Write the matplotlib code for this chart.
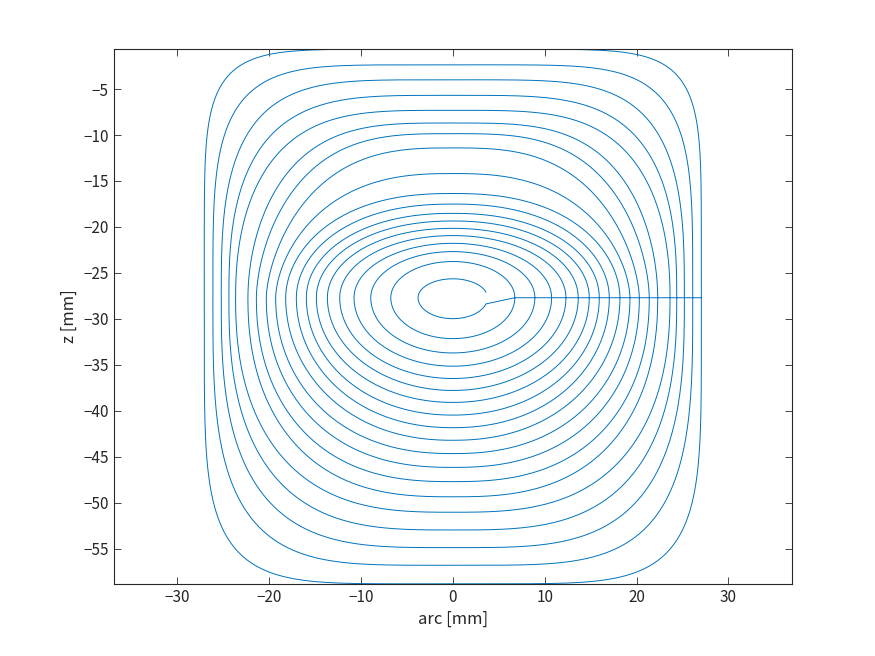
import numpy as np
import matplotlib
matplotlib.use("Agg")
import matplotlib.pyplot as plt

plt.rcParams['font.family'] = ['Noto Sans CJK JP', 'DejaVu Sans']

# spiral path loops, from the inside out
half_width = [3.78, 6.75, 8.93, 10.75, 12.31, 13.65, 14.85, 15.94, 17.03, 18.19,
              19.28, 20.30, 21.38, 22.30, 23.64, 24.37, 25.20, 26.11, 27.05]
z_top = [-25.64, -23.76, -22.68, -21.78, -20.94, -20.15, -19.35, -18.52, -17.51, -16.36,
         -14.19, -11.40, -9.85, -8.69, -7.31, -5.68, -3.99, -2.36, -0.66]
z_bottom = [-29.98, -32.15, -33.71, -35.15, -36.49, -37.79, -39.09, -40.47, -41.84, -43.21,
            -44.66, -46.16, -47.71, -49.36, -51.04, -52.97, -54.89, -56.81, -58.83]
# shape of each half loop: flatness of the top/bottom edge and squareness of the sides
flat_top = [2.0, 2.0, 2.0, 2.0, 2.05, 2.1, 2.15, 2.2, 2.3, 2.4,
            2.6, 2.9, 3.2, 3.5, 3.8, 4.0, 4.6, 5.5, 7.0]
side_top = [2.0, 2.0, 2.0, 2.0, 2.0, 2.0, 2.0, 2.0, 1.95, 1.9,
            1.7, 1.6, 1.7, 1.9, 2.2, 2.6, 3.0, 4.0, 6.0]
flat_bottom = [2.0, 2.0, 2.0, 2.0, 2.0, 2.0, 2.05, 2.1, 2.15, 2.2,
               2.3, 2.4, 2.55, 2.7, 2.9, 3.2, 3.6, 4.3, 5.5]
side_bottom = [2.0, 2.0, 2.0, 2.0, 2.0, 2.0, 2.0, 2.0, 2.0, 2.0,
               2.05, 2.1, 2.15, 2.2, 2.3, 2.5, 2.8, 3.3, 5.0]
z_center = -27.7


def loop(i, t0=0.0):
    t = np.linspace(t0, 2 * np.pi - t0, 800)
    c, s = np.cos(t), np.sin(t)
    up = s >= 0
    p = np.where(up, flat_top[i], flat_bottom[i])
    q = np.where(up, side_top[i], side_bottom[i])
    h = np.where(up, z_top[i] - z_center, z_center - z_bottom[i])
    x = half_width[i] * np.sign(c) * np.abs(c) ** (2 / p)
    z = z_center + h * np.sign(s) * np.abs(s) ** (2 / q)
    return x, z


xs, zs = [], []
for i in range(len(half_width)):
    x, z = loop(i, 0.3 if i == 0 else 0.0)
    xs.append(x)
    zs.append(z)
x = np.concatenate(xs)
z = np.concatenate(zs)

fig = plt.figure(figsize=(8.75, 6.56), dpi=100)
ax = fig.add_axes([0.13, 0.11, 0.775, 0.815])
ax.plot(x, z, color='#0072BD', linewidth=0.7)

ax.set_xlim(-36.9, 36.9)
ax.set_ylim(-58.83, -0.66)
ax.set_xticks(np.arange(-30, 31, 10))
ax.set_yticks(np.arange(-55, -4, 5))
ax.tick_params(direction='in', top=True, right=True, length=5, width=0.6,
               labelsize=11, colors='#262626')
for sp in ax.spines.values():
    sp.set_linewidth(0.8)
    sp.set_color('#262626')
ax.set_xlabel('arc [mm]', fontsize=12, color='#262626')
ax.set_ylabel('z [mm]', fontsize=12, color='#262626')

fig.savefig('out.png', dpi=100)
